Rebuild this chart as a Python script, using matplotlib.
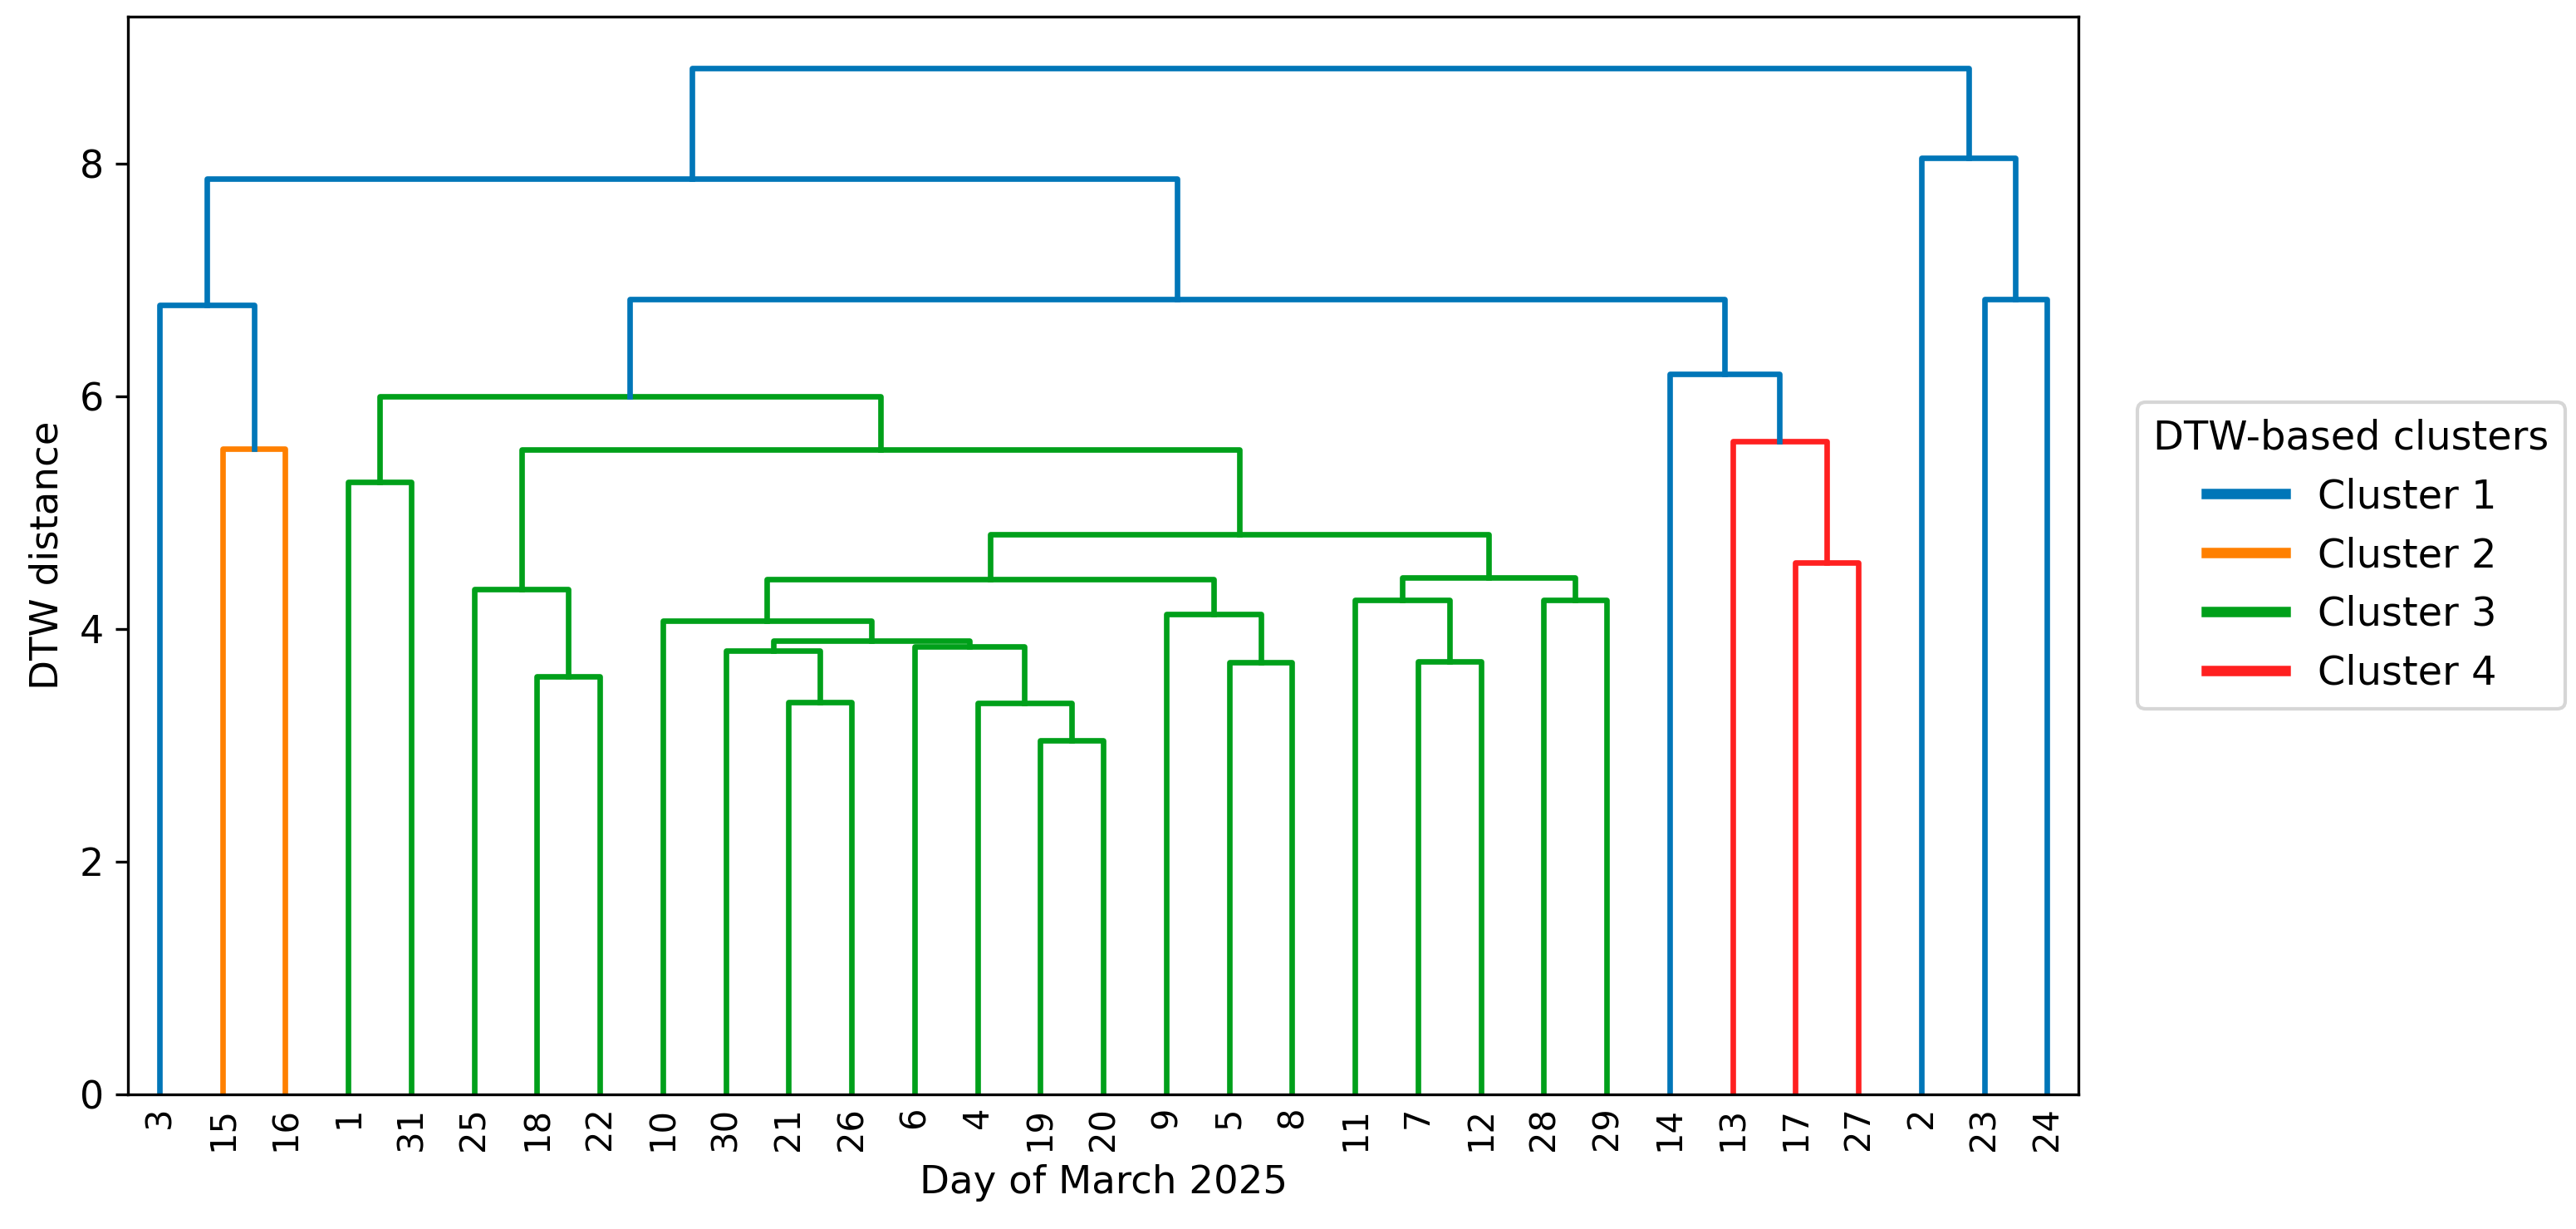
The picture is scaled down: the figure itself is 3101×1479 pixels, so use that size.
import matplotlib
matplotlib.use("Agg")
import matplotlib.pyplot as plt
from matplotlib.lines import Line2D

# leaf order along the x axis (day of March 2025)
leaf_days = [3, 15, 16, 1, 31, 25, 18, 22, 10, 30, 21, 26, 6, 4, 19, 20,
             9, 5, 8, 11, 7, 12, 28, 29, 14, 13, 17, 27, 2, 23, 24]

# merges: (left node, right node, DTW distance, cluster)
# ints are days, strings 'mN' refer to earlier merges
merge_left = [19, 4, 21, 18, 5, 7, 30, 6, 'm6', 10, 9, 11, 28, 25, 'm9',
              'm11', 17, 'm14', 1, 'm13', 15, 13, 'm18', 14, 3, 'm22', 23,
              'm24', 2, 'm27']
merge_right = [20, 'm0', 26, 22, 8, 12, 'm2', 'm1', 'm7', 'm8', 'm4', 'm5',
               29, 'm3', 'm10', 'm12', 27, 'm15', 31, 'm17', 16, 'm16',
               'm19', 'm21', 'm20', 'm23', 24, 'm25', 'm26', 'm28']
merge_height = [3.04, 3.36, 3.37, 3.59, 3.71, 3.72, 3.81, 3.85, 3.90, 4.07,
                4.13, 4.25, 4.25, 4.34, 4.43, 4.44, 4.57, 4.81, 5.26, 5.54,
                5.55, 5.61, 6.00, 6.19, 6.78, 6.83, 6.83, 7.87, 8.05, 8.82]
merge_cluster = [3, 3, 3, 3, 3, 3, 3, 3, 3, 3, 3, 3, 3, 3, 3, 3, 4, 3, 3, 3,
                 2, 4, 3, 1, 1, 1, 1, 1, 1, 1]

cluster_names = ['Cluster 1', 'Cluster 2', 'Cluster 3', 'Cluster 4']
cluster_colors = {1: '#0076b8', 2: '#ff8000', 3: '#00a01a', 4: '#ff2020'}

fig = plt.figure(figsize=(3101 / 300, 1479 / 300), dpi=300)
ax = fig.add_axes([0.0497, 0.1095, 0.7572, 0.877])

# node positions, scipy style: leaves at 5, 15, 25, ...
pos = {}
for i, d in enumerate(leaf_days):
    pos[d] = (5 + 10 * i, 0.0)

for k in range(len(merge_height)):
    xa, ya = pos[merge_left[k]]
    xb, yb = pos[merge_right[k]]
    h = merge_height[k]
    ax.plot([xa, xa, xb, xb], [ya, h, h, yb],
            color=cluster_colors[merge_cluster[k]], lw=1.6)
    pos['m%d' % k] = ((xa + xb) / 2, h)

ax.set_xlim(0, 10 * len(leaf_days))
ax.set_ylim(0, max(merge_height) * 1.05)
ax.set_xticks([5 + 10 * i for i in range(len(leaf_days))])
ax.set_xticklabels([str(d) for d in leaf_days], rotation=90, fontsize=10)
ax.tick_params(axis='x', length=0)
ax.set_yticks([0, 2, 4, 6, 8])
ax.tick_params(axis='y', labelsize=11)
ax.set_xlabel('Day of March 2025', fontsize=11.2)
ax.set_ylabel('DTW distance', fontsize=11.2)

handles = [Line2D([0], [0], color=cluster_colors[c + 1], lw=3)
           for c in range(len(cluster_names))]
ax.legend(handles, cluster_names, title='DTW-based clusters',
          loc='center left', bbox_to_anchor=(1.02, 0.5),
          fontsize=11.5, title_fontsize=11.5)

fig.savefig('out.png', dpi=300)
